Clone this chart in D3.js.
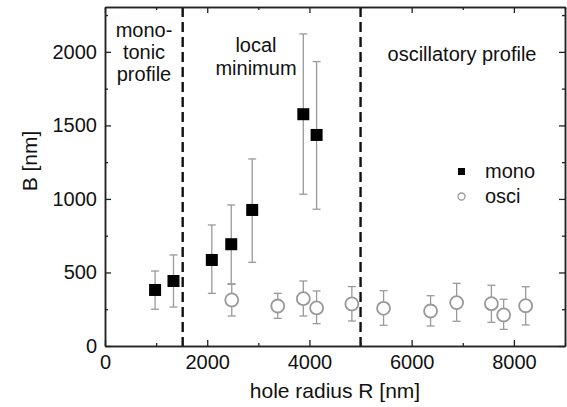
<!DOCTYPE html>
<html>
<head>
<meta charset="utf-8">
<script src="https://cdn.jsdelivr.net/npm/d3@7"></script>
<style>
  body { margin: 0; background: #fff; }
  svg { font-family: "Liberation Sans", Arial, sans-serif; }
</style>
</head>
<body>
<div id="chart"></div>
<script>
// mono series (filled squares)
const monoR = [980, 1340, 2090, 2470, 2880, 3880, 4140];
const monoB = [381, 442, 585, 692, 925, 1576, 1435];
const monoLo = [250, 265, 358, 422, 569, 1032, 930];
const monoHi = [510, 619, 823, 959, 1272, 2122, 1934];

// osci series (open circles)
const osciR = [2480, 3380, 3880, 4140, 4830, 5450, 6370, 6880, 7560, 7800, 8230];
const osciB = [313, 272, 322, 259, 286, 256, 238, 295, 288, 211, 274];
const osciLo = [204, 188, 204, 152, 170, 141, 136, 168, 161, 113, 143];
const osciHi = [420, 358, 442, 374, 404, 376, 342, 426, 413, 318, 403];

const xTicks = [0, 2000, 4000, 6000, 8000];
const yTicks = [0, 500, 1000, 1500, 2000];
const regionBounds = [1520, 5000];

const width = 567, height = 407;
const margin = { left: 105, right: 2, top: 7, bottom: 61 };

const svg = d3.select("#chart").append("svg")
    .attr("width", width)
    .attr("height", height);

const x = d3.scaleLinear().domain([0, 9000]).range([margin.left, width - margin.right]);
const y = d3.scaleLinear().domain([0, 2305]).range([height - margin.bottom, margin.top]);

const x0 = x.range()[0], x1 = x.range()[1];
const y0 = y.range()[0], y1 = y.range()[1];
const axisColor = "#222";

// Region separators
svg.selectAll(".sep")
    .data(regionBounds)
    .join("line")
    .attr("x1", d => x(d)).attr("x2", d => x(d))
    .attr("y1", y1).attr("y2", y0)
    .attr("stroke", "#111")
    .attr("stroke-width", 2.4)
    .attr("stroke-dasharray", "10,5");

// Frame with inward ticks
function drawAxis(axis, transform, showLabels) {
    const g = svg.append("g").attr("transform", transform).call(axis);
    g.select(".domain").attr("stroke", axisColor).attr("stroke-width", 1.5);
    g.selectAll(".tick line").attr("stroke", axisColor).attr("stroke-width", 1.3);
    g.selectAll("text")
        .attr("fill", "#111")
        .style("font-size", "20px");
    if (!showLabels) g.selectAll("text").remove();
    return g;
}

const xMinor = d3.range(0, 9001, 1000).filter(d => !xTicks.includes(d));
const yMinor = d3.range(0, 2301, 250).filter(d => !yTicks.includes(d));
const fmt = d3.format("d");

// bottom
drawAxis(d3.axisBottom(x).tickValues(xTicks).tickFormat(fmt).tickSize(-6).tickPadding(9).tickSizeOuter(0),
    `translate(0,${y0})`, true);
drawAxis(d3.axisBottom(x).tickValues(xMinor).tickSize(-3).tickSizeOuter(0),
    `translate(0,${y0})`, false);
// top
drawAxis(d3.axisTop(x).tickValues(xTicks).tickSize(-6).tickSizeOuter(0),
    `translate(0,${y1})`, false);
drawAxis(d3.axisTop(x).tickValues(xMinor).tickSize(-3).tickSizeOuter(0),
    `translate(0,${y1})`, false);
// left
drawAxis(d3.axisLeft(y).tickValues(yTicks).tickFormat(fmt).tickSize(-6).tickPadding(8).tickSizeOuter(0),
    `translate(${x0},0)`, true);
drawAxis(d3.axisLeft(y).tickValues(yMinor).tickSize(-3).tickSizeOuter(0),
    `translate(${x0},0)`, false);
// right
drawAxis(d3.axisRight(y).tickValues(yTicks).tickSize(-6).tickSizeOuter(0),
    `translate(${x1},0)`, false);
drawAxis(d3.axisRight(y).tickValues(yMinor).tickSize(-3).tickSizeOuter(0),
    `translate(${x1},0)`, false);

// Error bars
function errorBars(rs, lo, hi, cls) {
    const data = rs.map((r, i) => ({ r, lo: lo[i], hi: hi[i] }));
    const g = svg.append("g").attr("stroke", "#9a9a9a").attr("stroke-width", 1.3);
    g.selectAll("." + cls + "-v").data(data).join("line")
        .attr("x1", d => x(d.r)).attr("x2", d => x(d.r))
        .attr("y1", d => y(d.lo)).attr("y2", d => y(d.hi));
    g.selectAll("." + cls + "-t").data(data).join("line")
        .attr("x1", d => x(d.r) - 4).attr("x2", d => x(d.r) + 4)
        .attr("y1", d => y(d.hi)).attr("y2", d => y(d.hi));
    g.selectAll("." + cls + "-b").data(data).join("line")
        .attr("x1", d => x(d.r) - 4).attr("x2", d => x(d.r) + 4)
        .attr("y1", d => y(d.lo)).attr("y2", d => y(d.lo));
}
errorBars(osciR, osciLo, osciHi, "osci");
errorBars(monoR, monoLo, monoHi, "mono");

// Points
const sq = 12;
svg.append("g").selectAll("rect")
    .data(monoR.map((r, i) => ({ r, b: monoB[i] })))
    .join("rect")
    .attr("x", d => x(d.r) - sq / 2)
    .attr("y", d => y(d.b) - sq / 2)
    .attr("width", sq).attr("height", sq)
    .attr("fill", "#000");

svg.append("g").selectAll("circle")
    .data(osciR.map((r, i) => ({ r, b: osciB[i] })))
    .join("circle")
    .attr("cx", d => x(d.r))
    .attr("cy", d => y(d.b))
    .attr("r", 6.5)
    .attr("fill", "#fff")
    .attr("stroke", "#999")
    .attr("stroke-width", 1.8);

// Region annotations
const note = svg.append("g").attr("fill", "#111").style("font-size", "20px").attr("text-anchor", "middle");
[["mono-", 37], ["tonic", 59], ["profile", 81]].forEach(([t, yy]) =>
    note.append("text").attr("x", 144).attr("y", yy).text(t));
[["local", 52], ["minimum", 75]].forEach(([t, yy]) =>
    note.append("text").attr("x", 256).attr("y", yy).text(t));
note.append("text").attr("x", 462).attr("y", 61).text("oscillatory profile");

// Legend
const leg = svg.append("g");
leg.append("rect").attr("x", 458).attr("y", 168).attr("width", 7).attr("height", 7).attr("fill", "#000");
leg.append("circle").attr("cx", 461.5).attr("cy", 196.5).attr("r", 3.5)
    .attr("fill", "#fff").attr("stroke", "#999").attr("stroke-width", 1.3);
leg.append("text").attr("x", 485).attr("y", 178).style("font-size", "20px").attr("fill", "#111").text("mono");
leg.append("text").attr("x", 485).attr("y", 203).style("font-size", "20px").attr("fill", "#111").text("osci");

// Axis titles
svg.append("text")
    .attr("x", 335).attr("y", 398)
    .attr("text-anchor", "middle")
    .style("font-size", "21px")
    .attr("fill", "#111")
    .text("hole radius R [nm]");

svg.append("text")
    .attr("transform", "translate(37,161) rotate(-90)")
    .attr("text-anchor", "middle")
    .style("font-size", "21px")
    .attr("fill", "#111")
    .text("B [nm]");
</script>
</body>
</html>
